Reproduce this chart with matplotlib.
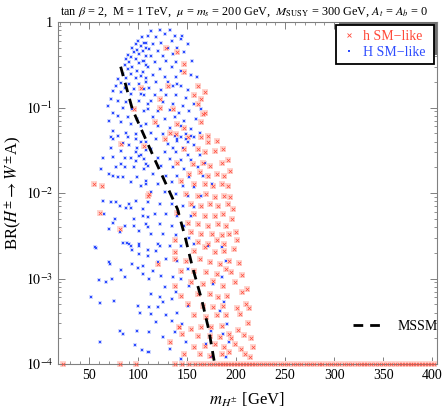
import numpy as np
import matplotlib
matplotlib.use('Agg')
import matplotlib.pyplot as plt
from matplotlib.lines import Line2D
from matplotlib.patches import Rectangle
from matplotlib.ticker import MultipleLocator, LogLocator, FuncFormatter, NullFormatter

plt.rcParams['font.family'] = ['Liberation Serif', 'DejaVu Serif']
plt.rcParams['mathtext.fontset'] = 'stix'

# (m_H+-, BR) points, "H SM-like" (blue)
H_points = [
    (104, 0.66), (100, 0.60), (106, 0.57), (98, 0.55), (103, 0.52), (108, 0.50), (94, 0.49), (99, 0.47),
    (105, 0.46), (96, 0.44), (89, 0.41), (101, 0.42), (93, 0.39), (108, 0.40), (87, 0.37), (98, 0.37),
    (105, 0.35), (91, 0.34), (101, 0.33), (86, 0.31), (94, 0.30), (108, 0.31), (89, 0.28), (99, 0.27),
    (105, 0.26), (84, 0.245), (93, 0.245), (103, 0.234), (87, 0.224), (98, 0.22), (79, 0.214), (108, 0.22),
    (82, 0.196), (91, 0.19), (101, 0.19), (77, 0.179), (86, 0.171), (96, 0.164), (106, 0.164), (74, 0.157),
    (82, 0.15), (93, 0.143), (103, 0.143), (72, 0.125), (79, 0.12), (87, 0.115), (101, 0.12), (110, 0.109),
    (69, 0.105), (84, 0.1), (94, 0.096), (106, 0.092), (74, 0.087), (79, 0.080), (89, 0.077), (99, 0.073),
    (70, 0.070), (82, 0.067), (93, 0.064), (103, 0.061), (74, 0.053), (87, 0.051), (98, 0.049), (79, 0.047),
    (72, 0.045),
    (113, 0.78), (122, 0.80), (132, 0.80), (110, 0.69), (118, 0.66), (127, 0.72), (137, 0.69), (145, 0.69),
    (108, 0.57), (115, 0.55), (123, 0.57), (134, 0.60), (144, 0.63), (111, 0.48), (120, 0.46), (130, 0.49),
    (140, 0.50), (151, 0.55), (113, 0.40), (125, 0.40), (135, 0.42), (147, 0.44), (106, 0.35), (117, 0.34),
    (128, 0.35), (139, 0.34), (155, 0.35), (110, 0.30), (122, 0.28), (134, 0.30), (144, 0.27), (115, 0.24),
    (127, 0.23), (139, 0.23), (154, 0.24), (108, 0.20), (118, 0.20), (130, 0.20), (140, 0.19), (160, 0.23),
    (111, 0.17), (123, 0.16), (135, 0.18), (144, 0.18), (151, 0.16), (106, 0.14), (117, 0.14), (128, 0.14),
    (139, 0.14), (149, 0.13), (113, 0.12), (125, 0.115), (135, 0.11), (146, 0.105), (157, 0.11), (110, 0.096),
    (120, 0.092), (132, 0.093), (142, 0.087), (152, 0.09), (164, 0.096), (115, 0.077), (127, 0.073), (137, 0.077),
    (147, 0.070), (159, 0.073), (108, 0.064), (120, 0.061), (132, 0.058), (144, 0.061), (154, 0.056), (113, 0.051),
    (125, 0.049), (137, 0.047), (149, 0.049), (163, 0.051), (118, 0.043), (140, 0.043), (157, 0.045),
    (74, 0.043), (89, 0.045), (98, 0.043), (103, 0.040), (108, 0.040), (84, 0.038), (72, 0.034), (91, 0.036),
    (99, 0.034), (108, 0.032), (82, 0.031), (98, 0.030), (103, 0.028), (64, 0.026), (74, 0.0265), (86, 0.0256),
    (93, 0.0256), (101, 0.027), (106, 0.0249), (98, 0.0238), (82, 0.0221), (108, 0.0221), (62, 0.019), (77, 0.0199),
    (86, 0.0199), (96, 0.0199), (106, 0.019), (70, 0.0169), (84, 0.0152), (74, 0.0159), (79, 0.0152), (99, 0.0152),
    (93, 0.0133), (108, 0.0139), (103, 0.0121), (64, 0.0081), (72, 0.0078), (77, 0.0078), (81, 0.0071), (91, 0.0074),
    (98, 0.0081), (87, 0.0067), (93, 0.0067), (105, 0.0065), (65, 0.0057), (76, 0.0050), (96, 0.0050), (105, 0.0054),
    (110, 0.0052), (70, 0.0038), (74, 0.0045), (86, 0.0041), (96, 0.0041), (110, 0.0040), (101, 0.0036), (81, 0.0035),
    (84, 0.0026), (88, 0.0026), (101, 0.0025), (91, 0.0025), (57, 0.0023),
    (137, 0.047), (144, 0.045), (149, 0.043), (154, 0.047), (140, 0.041), (151, 0.039), (130, 0.037), (135, 0.034),
    (146, 0.034), (157, 0.036), (113, 0.033), (127, 0.030), (139, 0.030), (151, 0.028), (163, 0.028), (120, 0.026),
    (132, 0.025), (144, 0.024), (154, 0.024), (168, 0.0227), (110, 0.0208), (123, 0.0208), (135, 0.0199), (147, 0.019),
    (161, 0.0199), (115, 0.0166), (128, 0.0159), (140, 0.0159), (152, 0.0152), (166, 0.0159), (108, 0.0127), (120, 0.0127),
    (134, 0.0133), (146, 0.0121), (157, 0.0116), (175, 0.0127), (113, 0.0102), (127, 0.0102), (139, 0.0097), (151, 0.0093),
    (164, 0.0093), (110, 0.0078), (122, 0.0074), (134, 0.0074), (146, 0.0071), (157, 0.0068), (117, 0.0057), (128, 0.0057),
    (140, 0.0054), (154, 0.0054), (108, 0.0043), (122, 0.0043), (134, 0.0041), (147, 0.0041), (113, 0.0033), (125, 0.0033),
    (139, 0.0032), (152, 0.0030), (120, 0.0025), (132, 0.0024), (144, 0.0024), (157, 0.0025),
    (56, 0.00235), (93, 0.00242), (101, 0.00242), (94, 0.00215), (110, 0.00215), (101, 0.00193), (70, 0.00155), (71, 0.00148),
    (94, 0.00148), (105, 0.00141), (100, 0.00133), (82, 0.00126), (105, 0.00113), (111, 0.00100), (86, 0.00103), (73, 0.00099),
    (60, 0.00097), (67, 0.00092), (52, 0.00061), (61, 0.00052), (75, 0.00055), (100, 0.00048), (111, 0.00047), (102, 0.00039),
    (81, 0.00024), (84, 0.000225), (99, 0.000244), (111, 0.000239), (61, 0.00018), (97, 0.000169), (104, 0.000144), (111, 0.00014),
    (122, 0.00242), (118, 0.00211), (110, 0.00185), (128, 0.00169), (120, 0.00155), (140, 0.00162), (151, 0.00129), (115, 0.00123),
    (123, 0.00108), (135, 0.00103), (144, 0.00099), (152, 0.00082), (127, 0.00079), (113, 0.00066), (139, 0.00069), (122, 0.00060),
    (134, 0.00058), (125, 0.00053), (120, 0.00046), (113, 0.00038), (140, 0.00040), (151, 0.00048), (128, 0.00037), (134, 0.00032),
    (118, 0.00031), (145, 0.00029), (137, 0.000235), (111, 0.000235), (125, 0.000206), (149, 0.00018), (110, 0.000137), (132, 0.00015),
    (144, 0.000115), (171, 0.00242), (185, 0.00231), (190, 0.00162), (185, 0.00103), (176, 0.00086), (188, 0.00053), (183, 0.00042),
    (174, 0.000246), (169, 0.000172), (186, 0.000225), (193, 0.00018), (174, 0.00012), (190, 0.00012), (191, 0.00029),
]

# "h SM-like" (red crosses)
h_points = [
    (103, 0.17), (96, 0.096), (122, 0.125),
    (128, 0.49), (140, 0.44), (147, 0.32), (147, 0.26), (161, 0.18), (168, 0.15), (157, 0.14), (164, 0.125),
    (161, 0.11), (130, 0.18), (122, 0.098), (135, 0.096), (168, 0.087), (166, 0.084), (164, 0.067), (117, 0.067),
    (140, 0.064), (147, 0.058), (132, 0.051), (151, 0.045), (171, 0.047), (139, 0.049),
    (82, 0.037), (106, 0.035), (55, 0.0129), (63, 0.0121), (61, 0.0058), (81, 0.0038), (110, 0.0093),
    (127, 0.043), (164, 0.045), (171, 0.039), (180, 0.041), (147, 0.033), (161, 0.033), (168, 0.030), (178, 0.031),
    (186, 0.033), (140, 0.0227), (156, 0.0218), (166, 0.0227), (173, 0.0208), (185, 0.0227), (192, 0.024), (152, 0.0166),
    (163, 0.0174), (171, 0.0159), (180, 0.0166), (188, 0.0159), (144, 0.0139), (157, 0.0127), (168, 0.0127), (176, 0.0121),
    (185, 0.0127), (111, 0.0097), (149, 0.0097), (161, 0.0093), (169, 0.0097), (178, 0.0089), (188, 0.0093), (154, 0.0074),
    (164, 0.0071), (173, 0.0074), (181, 0.0071), (192, 0.0074), (140, 0.0059), (157, 0.0057), (168, 0.0054), (178, 0.0054),
    (186, 0.0057), (151, 0.0045), (161, 0.0043), (171, 0.0041), (181, 0.0043), (190, 0.0041), (154, 0.0035), (164, 0.0033),
    (175, 0.0033), (185, 0.0032), (193, 0.0033), (137, 0.0028), (161, 0.0027), (171, 0.0025), (180, 0.0028), (188, 0.0025),
    (137, 0.00202), (157, 0.00211), (168, 0.00231), (178, 0.00202), (188, 0.00211), (149, 0.00162), (163, 0.00169), (173, 0.00155),
    (183, 0.00148), (193, 0.00162), (120, 0.00148), (144, 0.00123), (157, 0.00123), (169, 0.00118), (180, 0.00113), (190, 0.00129),
    (137, 0.00082), (154, 0.0009), (166, 0.00086), (176, 0.00094), (186, 0.00082), (144, 0.00063), (161, 0.00066), (173, 0.00066),
    (181, 0.0006), (191, 0.00063), (151, 0.0005), (166, 0.00048), (176, 0.00046), (186, 0.00048), (157, 0.00037), (169, 0.00035),
    (180, 0.00037), (190, 0.00037), (142, 0.00027), (154, 0.00026), (164, 0.00027), (174, 0.00027), (185, 0.00028), (145, 0.000225),
    (161, 0.000215), (173, 0.000215), (183, 0.000206), (193, 0.000225), (132, 0.00018), (157, 0.000157), (168, 0.000164), (178, 0.000172),
    (188, 0.000157), (147, 0.000131), (163, 0.000131), (173, 0.000125), (185, 0.000131), (193, 0.000137),
    (196, 0.005), (200, 0.0035), (198, 0.0022), (203, 0.0015), (199, 0.0009), (206, 0.0007), (210, 0.0005), (204, 0.00038),
    (212, 0.0003), (208, 0.00022), (215, 0.0002), (217, 0.00016), (209, 0.00013), (214, 0.00012), (201, 0.00045), (195, 0.0012),
    (197, 0.0065), (194, 0.009), (201, 0.0028), (206, 0.0011), (211, 0.00075), (202, 0.00025), (199, 0.00017), (195, 0.0002),
    (205, 0.00015), (213, 0.00045), (192, 0.012), (194, 0.018), (137, 0.0017), (142, 0.00027),
]

# red crosses sitting on the BR = 1e-4 floor
h_floor_mass = [
    23, 81, 98, 137, 145, 152, 158, 163, 167, 172, 176, 180, 183, 186, 189, 192, 195, 198, 201, 204,
    207, 210, 213, 216, 219, 223, 227, 231, 236, 240, 245, 249, 253, 258, 262, 266, 271, 275, 279, 284,
    288, 293, 297, 301, 305, 310, 314, 318, 323, 327, 330, 334, 338, 342, 346, 350, 354, 358, 362, 366,
    369, 372, 375, 378, 381, 384, 387, 390, 393, 396, 399, 402,
]
h_floor_br = 1e-4

# MSSM curve
mssm_mass = [82, 94, 118, 140, 148, 155, 165, 172, 178]
mssm_br = [0.30, 0.095, 0.023, 0.0065, 0.003, 0.0014, 5.5e-4, 2.5e-4, 1.0e-4]

title = (r"tan $\beta$ = 2,  M = 1 TeV,  $\mu$ = $m_s$ = 200 GeV,  "
         r"$M_{\mathrm{SUSY}}$ = 300 GeV, $A_t$ = $A_b$ = 0")

blue = '#2f4dff'
red = '#ff4a3a'
pink = '#ffd6d0'

fig = plt.figure(figsize=(4.43, 4.09), dpi=100)
ax = fig.add_axes([58 / 443, 1 - 364 / 409, 379 / 443, 342 / 409])

Hm, Hb = np.array(H_points).T
hm, hb = np.array(h_points).T
fm = np.array(h_floor_mass)
fb = np.full(len(fm), h_floor_br)

# blue dots with faint halo
ax.scatter(Hm, Hb, s=8, marker='s', color='#cfd7ff', linewidths=0, zorder=2)
ax.scatter(Hm, Hb, s=2.5, marker='s', color=blue, linewidths=0, zorder=3)
# red crosses with pink square behind
ax.scatter(hm, hb, s=14, marker='s', color=pink, linewidths=0, zorder=2)
ax.scatter(hm, hb, s=6, marker='x', color=red, linewidths=0.5, zorder=3)
ax.scatter(fm, fb, s=14, marker='s', color=pink, linewidths=0, zorder=2, clip_on=False)
ax.scatter(fm, fb, s=6, marker='x', color=red, linewidths=0.5, zorder=3, clip_on=False)

ax.plot(mssm_mass, mssm_br, color='black', lw=2.0, ls=(0, (3.5, 2.5)), zorder=4)

ax.set_yscale('log')
ax.set_xlim(18, 405)
ax.set_ylim(1e-4, 1)

ax.xaxis.set_major_locator(MultipleLocator(50))
ax.xaxis.set_minor_locator(MultipleLocator(10))
ax.yaxis.set_major_locator(LogLocator(base=10, numticks=10))
ax.yaxis.set_minor_locator(LogLocator(base=10, subs=np.arange(2, 10), numticks=20))
ax.yaxis.set_minor_formatter(NullFormatter())
ylabels = {0: '1', -1: r'$10^{-1}$', -2: r'$10^{-2}$', -3: r'$10^{-3}$', -4: r'$10^{-4}$'}
ax.yaxis.set_major_formatter(FuncFormatter(lambda v, _: ylabels.get(int(round(np.log10(v))), '')))

ax.tick_params(which='both', direction='in', top=True, right=True, color='#808080', labelsize=10)
ax.tick_params(which='major', length=5, width=0.7)
ax.tick_params(which='minor', length=2.5, width=0.6)
for sp in ax.spines.values():
    sp.set_color('#808080')
    sp.set_linewidth(0.8)

ax.set_xlabel(r"$m_{H^{\pm}}$ [GeV]", fontsize=12, labelpad=6)
ax.set_ylabel(r"BR($H^{\pm}\rightarrow W^{\pm}$A)", fontsize=12, labelpad=2)
ax.set_title(title, fontsize=8.8, pad=5, x=0.49)

# legend shadow (grey band top/right) and legend box
ax.add_patch(Rectangle((0.741, 0.904), 0.259, 0.096, transform=ax.transAxes,
                       facecolor='#707070', edgecolor='none', zorder=5, clip_on=False))
handles = [
    Line2D([], [], marker='x', color=red, ls='none', ms=3.2, mew=0.6),
    Line2D([], [], marker='s', color=blue, ls='none', ms=1.8, mew=0),
]
leg = ax.legend(handles, ['h SM\u2212like', 'H SM\u2212like'], loc='upper left',
                bbox_to_anchor=(0.733, 0.991, 0.259, 0.0), mode='expand', borderaxespad=0,
                frameon=True, fancybox=False, edgecolor='black', framealpha=1, fontsize=10,
                handlelength=1.2, handletextpad=0.4, borderpad=0.35, labelspacing=0.2,
                labelcolor=[red, blue])
leg.get_frame().set_linewidth(1.3)
leg.set_zorder(6)
ax.add_artist(leg)

leg2 = ax.legend([Line2D([], [], color='black', lw=2.0, ls=(0, (3.5, 2.5)))], ['MSSM'],
                 loc='center left', bbox_to_anchor=(0.765, 0.111), frameon=False, fontsize=10,
                 handlelength=2.3, handletextpad=0.9, borderaxespad=0)

fig.savefig('out.png', dpi=100)
